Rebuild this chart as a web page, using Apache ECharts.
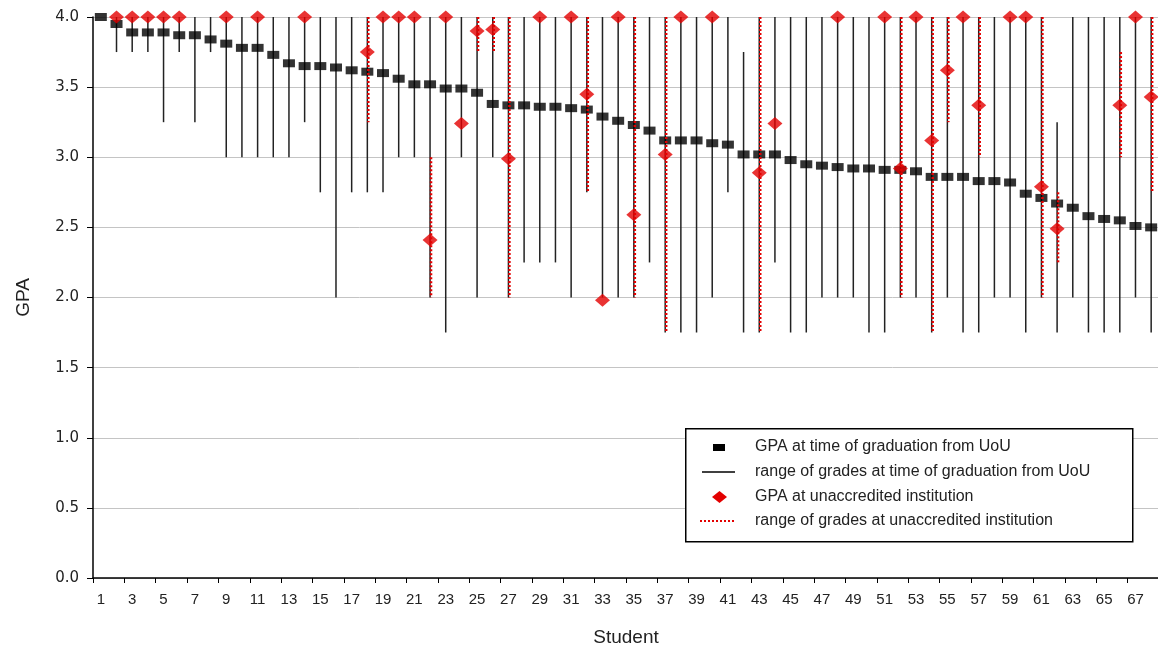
<!DOCTYPE html>
<html lang="en">
<head>
<meta charset="UTF-8">
<title>GPA by student</title>
<style>
    html, body { margin: 0; padding: 0; background: #fff; }
    #chart { width: 1158px; height: 651px; }
</style>
<script src="https://cdn.jsdelivr.net/npm/echarts@6/dist/echarts.min.js"></script>
</head>
<body>
<div id="chart"></div>
<script>
    // students on the x axis
    const students = ['1','2','3','4','5','6','7','8','9','10','11','12','13','14','15','16','17',
        '18','19','20','21','22','23','24','25','26','27','28','29','30','31','32','33','34',
        '35','36','37','38','39','40','41','42','43','44','45','46','47','48','49','50','51',
        '52','53','54','55','56','57','58','59','60','61','62','63','64','65','66','67','68'];

    // GPA at time of graduation from UoU
    const uouGpa = [4.00,3.95,3.89,3.89,3.89,3.87,3.87,3.84,3.81,3.78,3.78,3.73,3.67,3.65,3.65,3.64,3.62,
        3.61,3.60,3.56,3.52,3.52,3.49,3.49,3.46,3.38,3.37,3.37,3.36,3.36,3.35,3.34,3.29,3.26,
        3.23,3.19,3.12,3.12,3.12,3.10,3.09,3.02,3.02,3.02,2.98,2.95,2.94,2.93,2.92,2.92,2.91,
        2.91,2.90,2.86,2.86,2.86,2.83,2.83,2.82,2.74,2.71,2.67,2.64,2.58,2.56,2.55,2.51,2.50];

    // range of grades at UoU (lowest / highest)
    const uouMin = [null,3.75,3.75,3.75,3.25,3.75,3.25,3.75,3.0,3.0,3.0,3.0,3.0,3.25,2.75,2.0,2.75,
        2.75,2.75,3.0,3.0,2.0,1.75,3.0,2.0,3.0,2.0,2.25,2.25,2.25,2.0,2.75,2.0,2.0,
        2.0,2.25,1.75,1.75,1.75,2.0,2.75,1.75,1.75,2.25,1.75,1.75,2.0,2.0,2.0,1.75,1.75,
        2.0,2.0,1.75,2.0,1.75,1.75,2.0,2.0,1.75,2.0,1.75,2.0,1.75,1.75,1.75,2.0,1.75];
    const uouMax = [null,4,4,4,4,4,4,4,4,4,4,4,4,4,4,4,4,
        4,4,4,4,4,4,4,4,4,4,4,4,4,4,4,4,4,
        4,4,4,4,4,4,4,3.75,4,4,4,4,4,4,4,4,4,
        4,4,4,4,4,4,4,4,4,4,3.25,4,4,4,4,4,4];

    // GPA at unaccredited institution
    const uaGpa = [null,4,4,4,4,4,null,null,4,null,4,null,null,4,null,null,null,
        3.75,4,4,4,2.41,4,3.24,3.90,3.91,2.99,null,4,null,4,3.45,1.98,4,
        2.59,null,3.02,4,null,4,null,null,2.89,3.24,null,null,null,4,null,null,4,
        2.92,4,3.12,3.62,4,3.37,null,4,4,2.79,2.49,null,null,null,3.37,4,3.43];

    // range of grades at unaccredited institution
    const uaMin = [null,null,null,null,null,null,null,null,null,null,null,null,null,null,null,null,null,
        3.25,null,null,null,2.0,null,null,3.75,3.75,2.0,null,null,null,null,2.75,null,null,
        2.0,null,1.75,null,null,null,null,null,1.75,null,null,null,null,null,null,null,null,
        2.0,null,1.75,3.25,null,3.0,null,null,null,2.0,2.25,null,null,null,3.0,null,2.75];
    const uaMax = [null,null,null,null,null,null,null,null,null,null,null,null,null,null,null,null,null,
        4,null,null,null,3.0,null,null,4,4,4,null,null,null,null,4,null,null,
        4,null,4,null,null,null,null,null,4,null,null,null,null,null,null,null,null,
        4,null,4,4,null,4,null,null,null,4,2.75,null,null,null,3.75,null,4];

    const yTicks = ['0.0','0.5','1.0','1.5','2.0','2.5','3.0','3.5','4.0'];

    const RED = '#e30000';
    const LINE_FONT = 'Liberation Sans, Arial, sans-serif';

    function points(values) {
        const out = [];
        values.forEach((v, i) => { if (v !== null) out.push([i, v]); });
        return out;
    }

    function ranges(lo, hi) {
        const out = [];
        lo.forEach((v, i) => { if (v !== null && hi[i] !== null) out.push([i, v, hi[i]]); });
        return out;
    }

    // vertical line from low to high value, shifted a little sideways if asked
    function rangeLine(color, width, dash, shift) {
        return function (params, api) {
            const top = api.coord([api.value(0), api.value(2)]);
            const bottom = api.coord([api.value(0), api.value(1)]);
            return {
                type: 'line',
                shape: { x1: top[0] + shift, y1: top[1], x2: bottom[0] + shift, y2: bottom[1] },
                style: { stroke: color, lineWidth: width, lineDash: dash }
            };
        };
    }

    const chart = echarts.init(document.getElementById('chart'));

    const legendRows = [
        { y: 447, text: 'GPA at time of graduation from UoU' },
        { y: 472, text: 'range of grades at time of graduation from UoU' },
        { y: 497, text: 'GPA at unaccredited institution' },
        { y: 521, text: 'range of grades at unaccredited institution' }
    ];

    const option = {
        backgroundColor: '#fff',
        animation: false,
        grid: { left: 93, top: 17, width: 1066, bottom: 73, containLabel: false, outerBoundsMode: 'none' },
        xAxis: {
            type: 'category',
            data: students,
            boundaryGap: true,
            name: 'Student',
            nameLocation: 'middle',
            nameGap: 50,
            nameTextStyle: { fontFamily: LINE_FONT, fontSize: 19, color: '#222' },
            axisLine: { lineStyle: { color: '#000', width: 1.5 } },
            axisTick: { show: true, length: 5, lineStyle: { color: '#000' } },
            axisLabel: { interval: 1, margin: 14, fontFamily: LINE_FONT, fontSize: 15, color: '#222' },
            splitLine: { show: false }
        },
        yAxis: {
            type: 'value',
            min: 0,
            max: 4,
            interval: 0.5,
            name: 'GPA',
            nameLocation: 'middle',
            nameGap: 60,
            nameTextStyle: { fontFamily: LINE_FONT, fontSize: 19, color: '#222' },
            axisLine: { show: true, lineStyle: { color: '#000', width: 1.5 } },
            axisTick: { show: true, length: 6, lineStyle: { color: '#000' } },
            axisLabel: {
                margin: 14,
                fontFamily: 'DejaVu Sans, Verdana, sans-serif',
                fontSize: 15,
                color: '#222',
                formatter: v => yTicks[Math.round(v * 2)]
            },
            splitLine: { lineStyle: { color: '#c4c4c4', width: 1 } }
        },
        series: [
            {
                name: 'range of grades at time of graduation from UoU',
                type: 'custom',
                renderItem: rangeLine('#222', 1.5, null, 0),
                encode: { x: 0, y: [1, 2] },
                data: ranges(uouMin, uouMax),
                z: 1
            },
            {
                name: 'GPA at time of graduation from UoU',
                type: 'scatter',
                symbol: 'rect',
                symbolSize: [12, 8],
                itemStyle: { color: '#000' },
                clip: false,
                data: points(uouGpa),
                z: 2
            },
            {
                name: 'range of grades at unaccredited institution',
                type: 'custom',
                renderItem: rangeLine(RED, 2.5, [2, 2], 1),
                encode: { x: 0, y: [1, 2] },
                data: ranges(uaMin, uaMax),
                z: 3
            },
            {
                name: 'GPA at unaccredited institution',
                type: 'scatter',
                symbol: 'diamond',
                symbolSize: [15, 13],
                itemStyle: { color: RED },
                clip: false,
                data: points(uaGpa),
                z: 4
            }
        ],
        graphic: [
            {
                type: 'rect',
                left: 685, top: 428, z: 10,
                shape: { width: 447, height: 113 },
                style: { fill: '#fff', stroke: '#000', lineWidth: 1.5 }
            },
            { type: 'rect', z: 11, shape: { x: 713, y: 444, width: 12, height: 7 }, style: { fill: '#000' } },
            { type: 'line', z: 11, shape: { x1: 702, y1: 472, x2: 735, y2: 472 }, style: { stroke: '#000', lineWidth: 1.5 } },
            { type: 'polygon', z: 11, shape: { points: [[719.5, 491], [727, 497], [719.5, 503], [712, 497]] }, style: { fill: RED } },
            { type: 'line', z: 11, shape: { x1: 700, y1: 521, x2: 735, y2: 521 }, style: { stroke: RED, lineWidth: 2, lineDash: [2, 2] } }
        ].concat(legendRows.map(r => ({
            type: 'text', z: 11, x: 755, y: r.y,
            style: { text: r.text, fill: '#222', font: '16px ' + LINE_FONT, verticalAlign: 'middle' }
        })))
    };

    chart.setOption(option);
</script>
</body>
</html>
